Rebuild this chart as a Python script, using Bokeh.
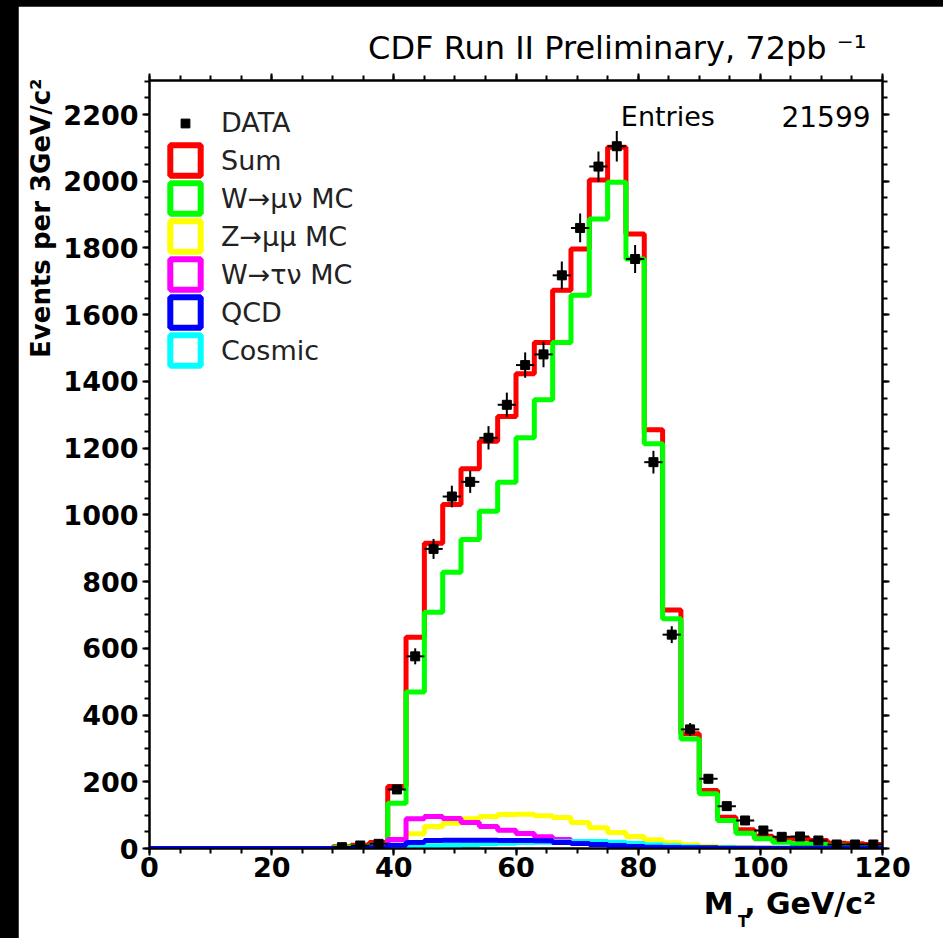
import numpy as np
from bokeh.plotting import figure
from bokeh.models import Range1d, LinearAxis, FixedTicker, Label, Legend, LegendItem, Spacer, Title
from bokeh.layouts import row, column
from bokeh.embed import file_html
from bokeh.resources import INLINE

# ---------------- data ----------------
bin_edges = list(range(0, 123, 3))  # 0..120 GeV, 3 GeV bins (40 bins)

data_counts = [0] * 10 + [4, 9, 14, 177, 576, 898, 1055, 1099, 1231, 1330,
                          1449, 1481, 1718, 1860, 2044, 2105, 1767, 1158, 641, 357,
                          209, 127, 84, 54, 35, 36, 24, 12, 12, 12]
sum_mc = [0] * 10 + [5, 10, 18, 186, 633, 915, 1031, 1138, 1221, 1295,
                     1423, 1517, 1673, 1797, 2004, 2102, 1842, 1255, 715, 344,
                     174, 94, 56, 37, 29, 29, 24, 16, 14, 12]
w_munu = [0] * 10 + [3, 6, 10, 136, 469, 708, 828, 926, 1011, 1098,
                     1231, 1345, 1517, 1658, 1887, 1997, 1767, 1213, 689, 328,
                     164, 84, 46, 29, 19, 14, 12, 9, 7, 6]
z_mumu = [0] * 12 + [2, 9, 44, 66, 76, 89, 96, 102, 103, 98, 93, 78, 62, 48,
                     36, 26, 17, 11, 7, 4, 2, 1] + [0] * 6
w_taunu = [0] * 12 + [2, 27, 89, 96, 90, 78, 66, 55, 45, 35, 27, 20, 14, 10,
                      7, 4, 3, 2, 1] + [0] * 9
qcd = [0] * 12 + [2, 10, 18, 24, 25, 25, 25, 24, 24, 23, 18, 15, 12, 9, 6, 4,
                  3, 2, 2, 1, 1, 1, 1, 1, 1, 1, 1, 1]
cosmic = [0] * 12 + [1, 4, 6, 8, 10, 12, 14, 16, 18, 19, 20, 21, 21, 19, 15,
                     11, 8, 5, 3, 2, 1] + [0] * 7

x_ticks = [0, 20, 40, 60, 80, 100, 120]
y_ticks = list(range(0, 2201, 200))

series = [
    ("Sum", sum_mc, "#ff0000"),
    ("W\u2192\u03bc\u03bd MC", w_munu, "#00ff00"),
    ("Z\u2192\u03bc\u03bc MC", z_mumu, "#ffff00"),
    ("W\u2192\u03c4\u03bd MC", w_taunu, "#ff00ff"),
    ("QCD", qcd, "#0000ff"),
    ("Cosmic", cosmic, "#00ffff"),
]

FONT = "DejaVu Sans"
X_MAX = 120
Y_MAX = 2302

W, H = 925, 932
p = figure(width=W, height=H, output_backend="svg", toolbar_location=None,
           x_range=Range1d(0, X_MAX), y_range=Range1d(0, Y_MAX),
           min_border_left=130, min_border_right=61, min_border_top=74,
           min_border_bottom=90, background_fill_color="white",
           border_fill_color="white")
p.grid.visible = False
p.outline_line_color = "black"
p.outline_line_width = 2

def style_axis(ax, labels=True):
    ax.axis_line_width = 2
    ax.axis_line_color = "black"
    ax.major_tick_line_width = 2
    ax.minor_tick_line_width = 2
    ax.major_tick_out = 7
    ax.major_tick_in = 0
    ax.minor_tick_out = 5
    ax.minor_tick_in = 0
    ax.major_label_text_font = FONT
    ax.major_label_text_font_style = "bold"
    ax.major_label_text_font_size = "27px"
    ax.major_label_text_color = "black"
    if not labels:
        ax.major_label_text_alpha = 0
        ax.major_label_text_font_size = "1px"
        ax.major_label_standoff = 0

xt = FixedTicker(ticks=x_ticks, minor_ticks=list(range(0, 121, 5)))
yt = FixedTicker(ticks=y_ticks, minor_ticks=list(range(0, 2301, 50)))

p.xaxis.ticker = xt
p.yaxis.ticker = yt
style_axis(p.xaxis[0])
style_axis(p.yaxis[0])
p.xaxis.major_label_standoff = 1
p.yaxis.major_label_standoff = 4

ax_top = LinearAxis(ticker=xt)
style_axis(ax_top, labels=False)
p.add_layout(ax_top, "above")
ax_right = LinearAxis(ticker=yt)
style_axis(ax_right, labels=False)
p.add_layout(ax_right, "right")

# ---------------- titles outside the frame ----------------
t_main = Title(text="CDF Run II Preliminary, 72pb \u207b\u00b9", align="right",
               vertical_align="bottom", offset=16, standoff=13,
               text_font=FONT, text_font_size="32px", text_font_style="normal",
               text_color="black")
p.add_layout(t_main, "above")

t_y = Title(text="Events per 3GeV/c\u00b2", align="right", vertical_align="bottom",
            offset=-2, standoff=10, text_font=FONT, text_font_size="26px",
            text_font_style="bold", text_color="black")
p.add_layout(t_y, "left")

t_x1 = Title(text="M  , GeV/c\u00b2", align="right", vertical_align="bottom",
             offset=-4, standoff=9, text_font=FONT, text_font_size="30px",
             text_font_style="bold", text_color="black")
p.add_layout(t_x1, "below")

# subscript "T" of M_T, drawn as the single label of an invisible axis row
T_POS = 97.2
ax_sub = LinearAxis(ticker=FixedTicker(ticks=[T_POS], minor_ticks=[]),
                    major_label_overrides={T_POS: "T"})
ax_sub.axis_line_color = None
ax_sub.major_tick_line_color = None
ax_sub.minor_tick_line_color = None
ax_sub.major_tick_out = 0
ax_sub.minor_tick_out = 0
ax_sub.major_label_standoff = -13
ax_sub.major_label_text_font = FONT
ax_sub.major_label_text_font_style = "bold"
ax_sub.major_label_text_font_size = "15px"
ax_sub.major_label_text_color = "black"
p.add_layout(ax_sub, "below")

# ---------------- histograms ----------------
draw_order = [0, 1, 2, 3, 5, 4]  # Sum, Wmunu, Z, Wtau, Cosmic, QCD (blue on top)
for i in draw_order:
    name, vals, col = series[i]
    p.step(x=bin_edges, y=list(vals) + [vals[-1]], mode="after",
           line_color=col, line_width=5)

# data points with error bars
centers = [(bin_edges[i] + bin_edges[i + 1]) / 2 for i in range(len(data_counts))]
dx = [centers[i] for i in range(len(data_counts)) if data_counts[i] > 0]
dy = [data_counts[i] for i in range(len(data_counts)) if data_counts[i] > 0]
err = [np.sqrt(v) for v in dy]
half = (bin_edges[1] - bin_edges[0]) / 2
p.segment(x0=[x - half for x in dx], x1=[x + half for x in dx], y0=dy, y1=dy,
          line_color="black", line_width=2)
p.segment(x0=dx, x1=dx, y0=[y - e for y, e in zip(dy, err)],
          y1=[y + e for y, e in zip(dy, err)], line_color="black", line_width=2)
p.scatter(dx, dy, marker="square", size=9, color="black")

# ---------------- legends ----------------
NAN = float("nan")
r_data_leg = p.scatter([NAN], [NAN], marker="square", size=9, color="black")
leg_items = []
for name, vals, col in series:
    r = p.quad(left=[NAN], right=[NAN], top=[NAN], bottom=[NAN], fill_alpha=0,
               line_color=col, line_width=6)
    leg_items.append(LegendItem(label=name, renderers=[r]))

def leg_common(lg):
    lg.border_line_color = None
    lg.background_fill_alpha = 0
    lg.padding = 0
    lg.margin = 0
    lg.spacing = 0
    lg.label_standoff = 17
    lg.label_text_font = FONT
    lg.label_text_font_size = "27px"
    lg.label_text_color = "#222222"
    lg.glyph_width = 38

leg_data = Legend(items=[LegendItem(label="DATA", renderers=[r_data_leg])],
                  location=(17, 710))
leg_common(leg_data)
leg_data.glyph_height = 22
p.add_layout(leg_data)

leg_main = Legend(items=leg_items, location=(17, 479))
leg_common(leg_main)
leg_main.glyph_height = 38
p.add_layout(leg_main)

# ---------------- texts inside the frame ----------------
FX0, FX1, FY0, FY1 = 148, 882, 848, 80
def xd(px):
    return (px - FX0) / (FX1 - FX0) * X_MAX
def yd(py):
    return (FY0 - py) / (FY0 - FY1) * Y_MAX

def add_text(txt, px, py, size, align="left"):
    p.add_layout(Label(x=xd(px), y=yd(py), text=txt, text_font=FONT,
                       text_font_size=size, text_align=align,
                       text_baseline="alphabetic", text_color="black"))

add_text("Entries", 620, 116, "27px")
add_text("21599", 870, 116, "28px", align="right")

black = {"background-color": "black"}
layout = row(Spacer(width=18, height=938, styles=black),
             column(Spacer(width=925, height=6, styles=black), p))
layout.styles = black

open("out.html", "w").write(file_html(layout, INLINE))
